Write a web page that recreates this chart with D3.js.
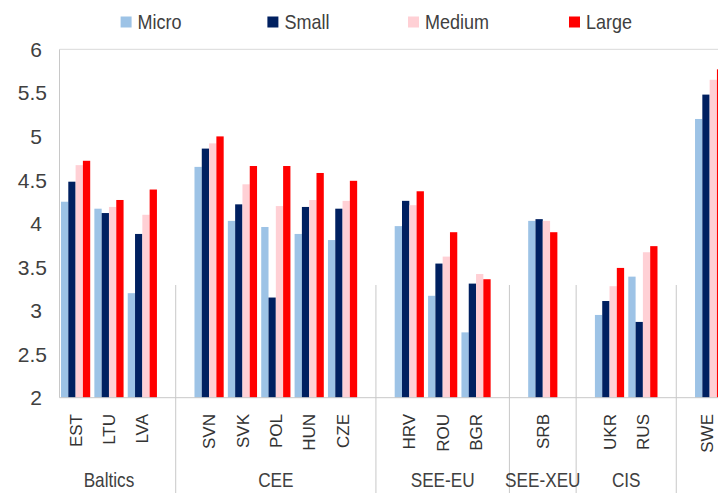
<!DOCTYPE html>
<html><head><meta charset="utf-8">
<script src="https://cdn.jsdelivr.net/npm/d3@7"></script>
<style>
html,body{margin:0;padding:0;background:#fff;overflow:hidden;}
svg{display:block;}
</style></head>
<body>
<script>
// ---- data ----
const countries = ["EST","LTU","LVA","SVN","SVK","POL","HUN","CZE","HRV","ROU","BGR","SRB","UKR","RUS","SWE"];
const countryGroup = ["Baltics","Baltics","Baltics","CEE","CEE","CEE","CEE","CEE","SEE-EU","SEE-EU","SEE-EU","SEE-XEU","CIS","CIS","Other"];
const groupNames = ["Baltics","CEE","SEE-EU","SEE-XEU","CIS"];
const seriesNames = ["Micro","Small","Medium","Large"];
const micro  = [4.25,4.17,3.20, 4.65,4.03,3.96,3.88,3.81, 3.97,3.17,2.75, 4.03, 2.95,3.39, 5.20];
const small  = [4.48,4.12,3.88, 4.86,4.22,3.15,4.19,4.17, 4.26,3.54,3.31, 4.05, 3.11,2.87, 5.48];
const medium = [4.67,4.19,4.10, 4.92,4.45,4.20,4.27,4.26, 4.21,3.62,3.42, 4.03, 3.28,3.67, 5.65];
const large  = [4.72,4.27,4.39, 5.00,4.66,4.66,4.58,4.49, 4.37,3.90,3.36, 3.90, 3.49,3.74, 5.77];
const yTicks = [2,2.5,3,3.5,4,4.5,5,5.5,6];
const colors = ["#9dc3e6","#002060","#ffd0d5","#ff0000"];

// ---- build slots (blank slot between groups) ----
const slots = [];
countries.forEach((c,i)=>{
  if(i>0 && countryGroup[i]!==countryGroup[i-1]) slots.push({key:"gap"+i, country:null, group:countryGroup[i-1]});
  slots.push({key:c, country:c, idx:i, group:countryGroup[i]});
});
const seriesVals = [micro, small, medium, large];

const W = 718, H = 493;
const svg = d3.select("body").append("svg").attr("width",W).attr("height",H);

const plotLeft = 59.5, plotTop = 49.3, plotBottom = 397.7;
const x0 = d3.scaleBand().domain(slots.map(s=>s.key)).range([59.33, 725.9]).paddingInner(0.125).paddingOuter(0.05);
const x1 = d3.scaleBand().domain(seriesNames).range([0, x0.bandwidth()]);
const y = d3.scaleLinear().domain([2,6]).range([plotBottom, plotTop]);

const FONT = "'Liberation Sans', Arial, sans-serif";
const textCol = "#404040";
const lineCol = "#c8c8c8";

// frame: left and top
svg.append("line").attr("x1",plotLeft).attr("x2",plotLeft).attr("y1",plotTop).attr("y2",plotBottom).attr("stroke",lineCol).attr("stroke-width",1);
svg.append("line").attr("x1",plotLeft).attr("x2",W).attr("y1",plotTop).attr("y2",plotTop).attr("stroke","#d9d9d9").attr("stroke-width",1);

// bars
const countrySlots = slots.filter(s=>s.country);
const gBars = svg.append("g");
countrySlots.forEach(s=>{
  seriesNames.forEach((name,k)=>{
    const v = seriesVals[k][s.idx];
    gBars.append("rect")
      .attr("x", x0(s.key)+x1(name))
      .attr("y", y(v))
      .attr("width", x1.bandwidth())
      .attr("height", y(2)-y(v))
      .attr("fill", colors[k]);
  });
});

// x axis line
svg.append("line").attr("x1",plotLeft).attr("x2",W).attr("y1",plotBottom).attr("y2",plotBottom).attr("stroke",lineCol).attr("stroke-width",1);

// y tick labels
svg.append("g").selectAll("text").data(yTicks).join("text")
  .attr("x", d=> Number.isInteger(d) ? 42 : 47)
  .attr("y", d=>y(d))
  .attr("dy","0.36em")
  .attr("text-anchor","end")
  .attr("font-family",FONT).attr("font-size",21)
  .attr("fill",textCol)
  .text(d=>String(d));

// category labels (rotated); keep the last one inside the page
svg.append("g").selectAll("text").data(countrySlots).join("text")
  .attr("transform", s=>`translate(${Math.min(x0(s.key)+x0.bandwidth()/2, W-11)},414) rotate(-90)`)
  .attr("dy","0.36em")
  .attr("text-anchor","end")
  .attr("font-family",FONT).attr("font-size",17)
  .attr("fill","#333")
  .text(s=>s.country);

// group separators at centre of blank slots
const gaps = slots.filter(s=>!s.country);
svg.append("g").selectAll("line").data(gaps).join("line")
  .attr("x1", s=>x0(s.key)+x0.bandwidth()/2)
  .attr("x2", s=>x0(s.key)+x0.bandwidth()/2)
  .attr("y1", 285).attr("y2", H)
  .attr("stroke",lineCol).attr("stroke-width",1);

// group labels (condensed look)
svg.append("g").selectAll("text").data(groupNames).join("text")
  .attr("transform", g=>{
    const ss = countrySlots.filter(s=>s.group===g);
    const cx = (x0(ss[0].key) + x0(ss[ss.length-1].key) + x0.bandwidth())/2;
    return `translate(${cx},487) scale(0.86,1)`;
  })
  .attr("text-anchor","middle")
  .attr("font-family",FONT).attr("font-size",20)
  .attr("fill",textCol)
  .text(g=>g);

// legend
const legendX = [120.6, 267.4, 408, 569];
const leg = svg.append("g").selectAll("g").data(seriesNames).join("g")
  .attr("transform",(d,i)=>`translate(${legendX[i]},22)`);
leg.append("rect").attr("x",0).attr("y",-5.5).attr("width",11).attr("height",11).attr("fill",(d,i)=>colors[i]);
leg.append("text").attr("transform","translate(17,0) scale(0.9,1)").attr("dy","0.36em")
  .attr("font-family",FONT).attr("font-size",20).attr("fill",textCol).text(d=>d);
</script>
</body></html>
